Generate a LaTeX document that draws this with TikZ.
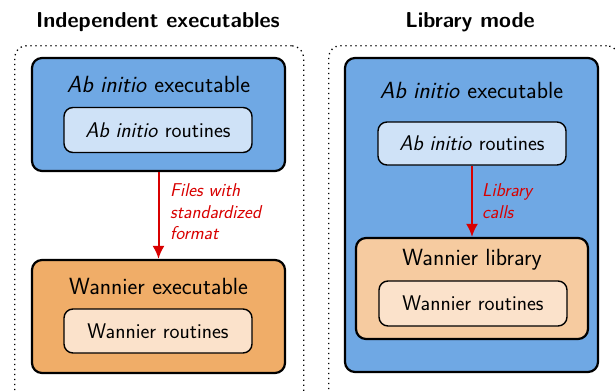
\documentclass[tikz,border=0pt]{standalone}
\usetikzlibrary{arrows.meta}
\renewcommand{\familydefault}{\sfdefault}
\definecolor{exblue}{HTML}{6FA8E4}
\definecolor{liblue}{HTML}{CFE2F7}
\definecolor{exorange}{HTML}{F0AD68}
\definecolor{liborange}{HTML}{F6CBA0}
\definecolor{lightorange}{HTML}{FBE2CB}
\definecolor{arrowred}{HTML}{D80000}
\tikzset{
  frame/.style={draw, line width=1.3pt, dash pattern=on 1.3pt off 3.7pt, rounded corners=12pt},
  bigbox/.style={draw, line width=2.2pt, rounded corners=10pt, inner sep=0pt},
  smallbox/.style={draw, line width=1.4pt, rounded corners=9pt, inner sep=0pt},
  title/.style={font=\fontsize{21.6}{24}\selectfont\bfseries},
  boxlabel/.style={font=\fontsize{23.4}{26}\selectfont},
  routlabel/.style={font=\fontsize{21.2}{24}\selectfont},
  redlabel/.style={font=\fontsize{18.6}{21.5}\selectfont\itshape, text=arrowred, align=left, anchor=west, inner sep=0pt},
  flow/.style={draw=arrowred, line width=2pt, -{Latex[length=13pt,width=12pt]}}
}
\begin{document}
\begin{tikzpicture}[x=1pt,y=-1pt]
\useasboundingbox (0,0) rectangle (615,391);
% titles
\node[title] (titleL) at (158,22) {Independent executables};
\node[title] (titleR) at (470,22) {Library mode};
% frames
\node[frame, minimum width=289pt, minimum height=360pt, anchor=north west] (frameL) at (14,45) {};
\node[frame, minimum width=290pt, minimum height=360pt, anchor=north west] (frameR) at (328,45) {};
% left side
\node[bigbox, fill=exblue, minimum width=253pt, minimum height=113pt] (abexL) at (158.5,114.5) {};
\node[boxlabel] (abexLtext) at (158.5,84) {\textit{Ab initio} executable};
\node[smallbox, fill=liblue, minimum width=188pt, minimum height=45pt] (abrL) at (158,130) {};
\node[routlabel] (abrLtext) at (158,130) {\textit{Ab initio} routines};
\node[bigbox, fill=exorange, minimum width=253pt, minimum height=113pt] (wexL) at (158.5,316.5) {};
\node[boxlabel] (wexLtext) at (158.5,286) {Wannier executable};
\node[smallbox, fill=lightorange, minimum width=188pt, minimum height=44pt] (wrL) at (158,331) {};
\node[routlabel] (wrLtext) at (158,331) {Wannier routines};
\draw[flow] (abexL.south) -- (wexL.north);
\node[redlabel] (filesL) at (170,212) {Files with\\standardized\\format};
% right side
\node[bigbox, fill=exblue, minimum width=253pt, minimum height=314pt] (abexR) at (471.5,215) {};
\node[boxlabel] (abexRtext) at (471.5,90) {\textit{Ab initio} executable};
\node[smallbox, fill=liblue, minimum width=188pt, minimum height=43pt] (abrR) at (472,143.5) {};
\node[routlabel] (abrRtext) at (472,143.5) {\textit{Ab initio} routines};
\node[bigbox, fill=liborange, minimum width=232pt, minimum height=101pt] (wlibR) at (472,288.5) {};
\node[boxlabel] (wlibRtext) at (472,260) {Wannier library};
\node[smallbox, fill=lightorange, minimum width=188pt, minimum height=45pt] (wrR) at (473,303.5) {};
\node[routlabel] (wrRtext) at (473,303.5) {Wannier routines};
\draw[flow] (abrR.south) -- (wlibR.north);
\node[redlabel] (callsR) at (482,201) {Library\\calls};
\end{tikzpicture}
\end{document}
